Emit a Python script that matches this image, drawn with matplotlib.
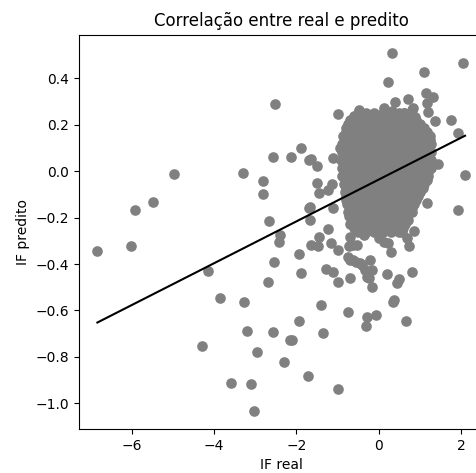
import numpy as np
import matplotlib
matplotlib.use("Agg")
import matplotlib.pyplot as plt

# Outlying points (IF real, IF predito)
outlier_x = [-6.83, -6.01, -5.91, -5.49, -4.98, -3.29, -2.80, -2.80, -4.14, -3.84,
             -3.28, -3.20, -4.30, -2.96, -3.59, -3.10, -3.02, -2.65, -2.39, -2.43,
             -2.53, -2.69, -1.93, -1.88, -1.66, -1.45, -1.64, -1.46, -1.24, -1.16,
             -0.99, -1.27, -1.11, -0.99, -1.40, -1.93, -2.57, -2.16, -2.11, -1.35,
             -2.30, -1.72, -0.99, -0.75, -0.28, -0.06, -0.31, 0.67, 0.35, 0.38,
             0.45, 0.49, 0.81, 0.20, -0.15, -0.69, -0.52, -0.69, -0.75, -0.69,
             -0.54, -0.40, -0.32, -0.28, -0.20, -0.16, -0.36, -0.28, 0.00, 0.12,
             0.22, 0.30, 0.69, 0.75, 0.87, 0.57, -0.24, -0.44, -0.61, -0.73,
             -0.61, -2.57, -2.13, -1.88, -1.70, -1.70, -2.51, -0.99, 0.33, 0.22,
             1.11, 2.05, 1.16, 1.32, 1.17, 1.77, 1.94, 2.10, 1.94, 1.17,
             1.44, 1.38, 0.41, 0.71, 0.83, 1.09, 1.21, -0.47, -0.52, -0.73,
             0.12, -0.24, -1.64, -1.50, -1.11, -0.93, -1.50, -1.44, -1.24, -1.13,
             -1.67, -1.11, -0.81, 0.33, 0.61, 0.81, 0.89]
outlier_y = [-0.344, -0.323, -0.168, -0.135, -0.014, -0.010, -0.042, -0.099, -0.430, -0.548,
             -0.563, -0.688, -0.753, -0.777, -0.912, -0.917, -1.032, -0.215, -0.275, -0.304,
             -0.393, -0.479, -0.358, -0.437, -0.211, -0.282, -0.318, -0.321, -0.249, -0.308,
             -0.340, -0.423, -0.436, -0.476, -0.575, -0.645, -0.694, -0.727, -0.727, -0.697,
             -0.822, -0.883, -0.936, -0.606, -0.628, -0.621, -0.668, -0.645, -0.563, -0.556,
             -0.483, -0.466, -0.433, -0.443, -0.500, -0.460, -0.318, -0.282, -0.368, -0.383,
             -0.390, -0.404, -0.426, -0.455, -0.383, -0.426, -0.275, -0.254, -0.290, -0.304,
             -0.308, -0.350, -0.290, -0.321, -0.258, -0.261, -0.460, -0.395, -0.383, -0.323,
             -0.318, 0.059, 0.059, 0.098, 0.047, -0.161, 0.288, 0.245, 0.509, 0.384,
             0.426, 0.463, 0.334, 0.320, 0.294, 0.219, 0.165, -0.017, -0.168, -0.139,
             0.030, 0.216, 0.298, 0.308, 0.270, 0.184, 0.255, 0.262, 0.227, 0.184,
             0.270, 0.241, 0.050, 0.022, 0.054, 0.098, -0.050, -0.096, -0.082, -0.056,
             -0.156, -0.161, 0.154, 0.260, 0.251, 0.263, 0.231]

# Dense central cluster, read row by row (IF predito of each row, IF real values in the row)
cluster_row_y = [0.250, 0.235, 0.220, 0.202, 0.185, 0.168, 0.150, 0.133,
                 0.115, 0.098, 0.080, 0.064, 0.047, 0.030, 0.013, -0.005,
                 -0.022, -0.039, -0.056, -0.073, -0.090, -0.108, -0.125, -0.143,
                 -0.160, -0.178, -0.195, -0.212, -0.228, -0.245, -0.262]
cluster_row_x = [
    [-0.5, -0.3, -0.1, 0.1, 0.3, 0.5, 0.62],
    [-0.6, -0.4, -0.2, 0.0, 0.2, 0.4, 0.6, 0.8],
    [-0.7, -0.5, -0.3, -0.1, 0.1, 0.3, 0.5, 0.7, 0.9],
    [-0.74, -0.6, -0.4, -0.2, 0.0, 0.2, 0.4, 0.6, 0.8, 1.0],
    [-0.8, -0.7, -0.5, -0.3, -0.1, 0.1, 0.3, 0.5, 0.7, 0.9, 1.1],
    [-0.8, -0.6, -0.4, -0.2, 0.0, 0.2, 0.4, 0.6, 0.8, 1.0, 1.18],
    [-0.86, -0.7, -0.5, -0.3, -0.1, 0.1, 0.3, 0.5, 0.7, 0.9, 1.1, 1.24],
    [-0.8, -0.6, -0.4, -0.2, 0.0, 0.2, 0.4, 0.6, 0.8, 1.0, 1.2, 1.26],
    [-0.88, -0.7, -0.5, -0.3, -0.1, 0.1, 0.3, 0.5, 0.7, 0.9, 1.1, 1.27],
    [-0.8, -0.6, -0.4, -0.2, 0.0, 0.2, 0.4, 0.6, 0.8, 1.0, 1.2],
    [-0.90, -0.7, -0.5, -0.3, -0.1, 0.1, 0.3, 0.5, 0.7, 0.9, 1.1, 1.28],
    [-0.8, -0.6, -0.4, -0.2, 0.0, 0.2, 0.4, 0.6, 0.8, 1.0, 1.2],
    [-0.91, -0.7, -0.5, -0.3, -0.1, 0.1, 0.3, 0.5, 0.7, 0.9, 1.1, 1.28],
    [-0.8, -0.6, -0.4, -0.2, 0.0, 0.2, 0.4, 0.6, 0.8, 1.0, 1.2],
    [-0.90, -0.7, -0.5, -0.3, -0.1, 0.1, 0.3, 0.5, 0.7, 0.9, 1.1, 1.27],
    [-0.8, -0.6, -0.4, -0.2, 0.0, 0.2, 0.4, 0.6, 0.8, 1.0, 1.2],
    [-0.88, -0.7, -0.5, -0.3, -0.1, 0.1, 0.3, 0.5, 0.7, 0.9, 1.1, 1.21],
    [-0.8, -0.6, -0.4, -0.2, 0.0, 0.2, 0.4, 0.6, 0.8, 1.0, 1.17],
    [-0.83, -0.7, -0.5, -0.3, -0.1, 0.1, 0.3, 0.5, 0.7, 0.9, 1.1],
    [-0.8, -0.6, -0.4, -0.2, 0.0, 0.2, 0.4, 0.6, 0.8, 1.0, 1.07],
    [-0.81, -0.7, -0.5, -0.3, -0.1, 0.1, 0.3, 0.5, 0.7, 0.9, 1.0],
    [-0.8, -0.6, -0.4, -0.2, 0.0, 0.2, 0.4, 0.6, 0.8, 0.96],
    [-0.78, -0.7, -0.5, -0.3, -0.1, 0.1, 0.3, 0.5, 0.7, 0.9],
    [-0.77, -0.6, -0.4, -0.2, 0.0, 0.2, 0.4, 0.6, 0.8, 0.87],
    [-0.7, -0.5, -0.3, -0.1, 0.1, 0.3, 0.5, 0.7, 0.82],
    [-0.75, -0.6, -0.4, -0.2, 0.0, 0.2, 0.4, 0.6, 0.8],
    [-0.72, -0.5, -0.3, -0.1, 0.1, 0.3, 0.5, 0.7],
    [-0.6, -0.4, -0.2, 0.0, 0.2, 0.4, 0.6, 0.72],
    [-0.69, -0.5, -0.3, -0.1, 0.1, 0.3, 0.5, 0.65],
    [-0.6, -0.4, -0.2, 0.0, 0.2, 0.4, 0.6],
    [-0.5, -0.3, -0.1, 0.1, 0.3, 0.5],
]

# Fitted regression line
reg_slope = 0.090
reg_intercept = -0.037

title = "Correlação entre real e predito"
xlabel = "IF real"
ylabel = "IF predito"

cx, cy = [], []
for yv, row in zip(cluster_row_y, cluster_row_x):
    for xv in row:
        cx.append(xv)
        cy.append(yv)

x = np.array(outlier_x + cx)
y = np.array(outlier_y + cy)

fig = plt.figure(figsize=(4.76, 4.73), dpi=100)
ax = fig.add_axes([0.166, 0.0934, 0.8496, 0.833])
ax.scatter(x, y, color="gray", s=44)
lx = np.array([x.min(), x.max()])
ax.plot(lx, reg_intercept + reg_slope * lx, color="black", linewidth=1.5)
ax.set_title(title)
ax.set_xlabel(xlabel)
ax.set_ylabel(ylabel)
fig.savefig("out.png", dpi=100)
